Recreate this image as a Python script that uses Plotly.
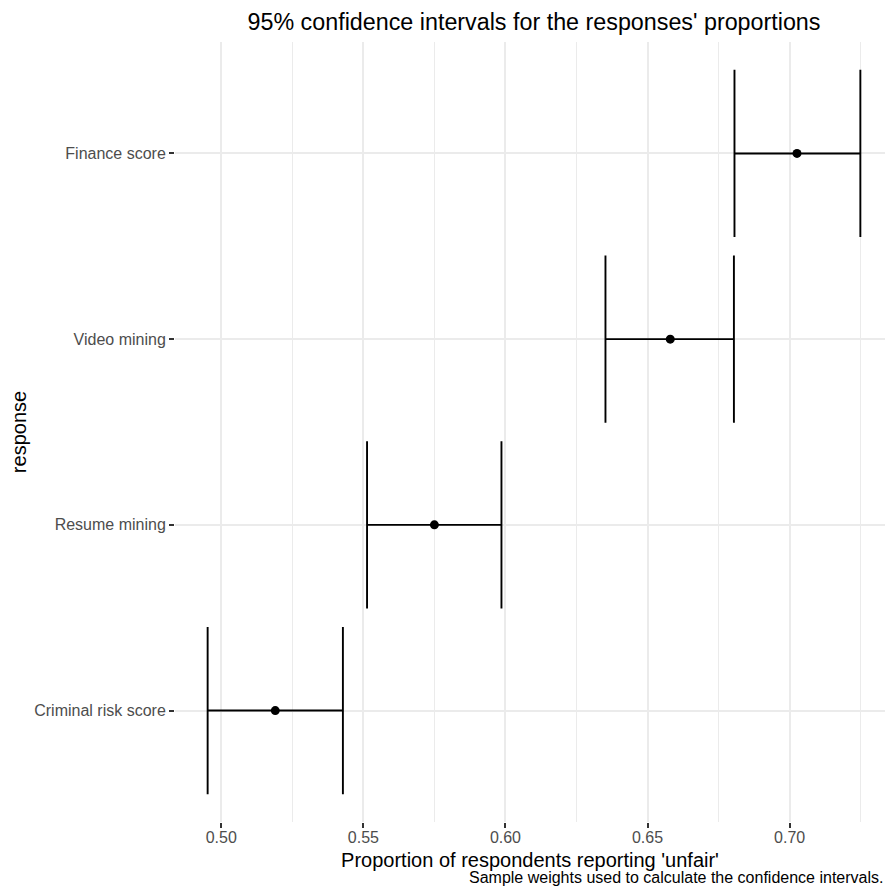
import plotly.graph_objects as go

# ---- data ----
responses = ["Criminal risk score", "Resume mining", "Video mining", "Finance score"]
proportion = [0.519, 0.575, 0.658, 0.7026]
ci_low = [0.4952, 0.5513, 0.6352, 0.6806]
ci_high = [0.5428, 0.5986, 0.6804, 0.7249]
x_tick_values = [0.50, 0.55, 0.60, 0.65, 0.70]
x_tick_labels = ["0.50", "0.55", "0.60", "0.65", "0.70"]

title_text = "95% confidence intervals for the responses' proportions"
x_title = "Proportion of respondents reporting 'unfair'"
y_title = "response"
caption = "Sample weights used to calculate the confidence intervals."

# ---- layout geometry (page body has an 8px default margin on every side) ----
OFF = 8
PAGE_W, PAGE_H = 893, 896
W, H = PAGE_W - 2 * OFF, PAGE_H - 2 * OFF
REF_L, REF_R, REF_T, REF_B = 175, 893, 42, 822          # panel edges in page px
M_L, M_T = REF_L - OFF, REF_T - OFF
M_R = 0
M_B = H - (REF_B - OFF)
panel_w = W - M_L - M_R
panel_h = H - M_T - M_B
n = len(responses)
y_lo, y_hi = -0.6, n - 1 + 0.6
px_per_cat = panel_h / (y_hi - y_lo)
cap_half = 0.45 * px_per_cat

lo, hi = min(ci_low), max(ci_high)
pad = 0.05 * (hi - lo)
x_left, x_full_right = lo - pad, hi + pad
ref_panel_w = REF_R - REF_L
x_right = x_left + (x_full_right - x_left) * panel_w / ref_panel_w

FONT = "Liberation Sans, Arial, Helvetica, sans-serif"
GRID = "#EBEBEB"

err_plus = [h - p for h, p in zip(ci_high, proportion)]
err_minus = [p - l for p, l in zip(proportion, ci_low)]

fig = go.Figure()
fig.add_trace(go.Scatter(
    x=proportion,
    y=responses,
    mode="markers",
    marker=dict(color="black", size=9),
    error_x=dict(
        type="data",
        symmetric=False,
        array=err_plus,
        arrayminus=err_minus,
        color="black",
        thickness=1.9,
        width=cap_half,
    ),
    showlegend=False,
    hoverinfo="x+y",
))

fig.update_layout(
    width=W, height=H,
    margin=dict(l=M_L, r=M_R, t=M_T, b=M_B, autoexpand=False),
    paper_bgcolor="white",
    plot_bgcolor="white",
    font=dict(family=FONT, color="black"),
    title=dict(
        text=title_text,
        font=dict(size=23.3, color="black", family=FONT),
        x=(534 - OFF) / W, xref="container", xanchor="center",
        y=1 - (21.4 - OFF) / H, yref="container", yanchor="middle",
    ),
    xaxis=dict(
        range=[x_left, x_right],
        tickmode="array",
        tickvals=x_tick_values,
        ticktext=x_tick_labels,
        showgrid=True, gridcolor=GRID, gridwidth=1.9,
        minor=dict(dtick=0.025, tick0=0.475, showgrid=True, gridcolor=GRID, gridwidth=1, ticks=""),
        zeroline=False, showline=False,
        ticks="outside", ticklen=5, tickwidth=1.9, tickcolor="#333333",
        ticklabelstandoff=-4,
        tickfont=dict(size=16, color="#4D4D4D", family=FONT),
        title=dict(text=x_title, font=dict(size=20, color="black", family=FONT), standoff=7),
        automargin=False,
        fixedrange=True,
    ),
    yaxis=dict(
        type="category",
        categoryorder="array",
        categoryarray=responses,
        range=[y_lo, y_hi],
        showgrid=True, gridcolor=GRID, gridwidth=1.9,
        zeroline=False, showline=False,
        ticks="outside", ticklen=5, tickwidth=1.9, tickcolor="#333333",
        tickfont=dict(size=16, color="#4D4D4D", family=FONT),
        title=dict(text=y_title, font=dict(size=20, color="black", family=FONT), standoff=4),
        automargin=False,
        fixedrange=True,
    ),
    annotations=[dict(
        text=caption,
        xref="paper", x=1, xanchor="right", xshift=0,
        yref="paper", y=((H - M_B) - (877 - OFF)) / panel_h, yanchor="middle",
        showarrow=False,
        font=dict(size=16, color="black", family=FONT),
    )],
)

fig.write_html("out.html")
